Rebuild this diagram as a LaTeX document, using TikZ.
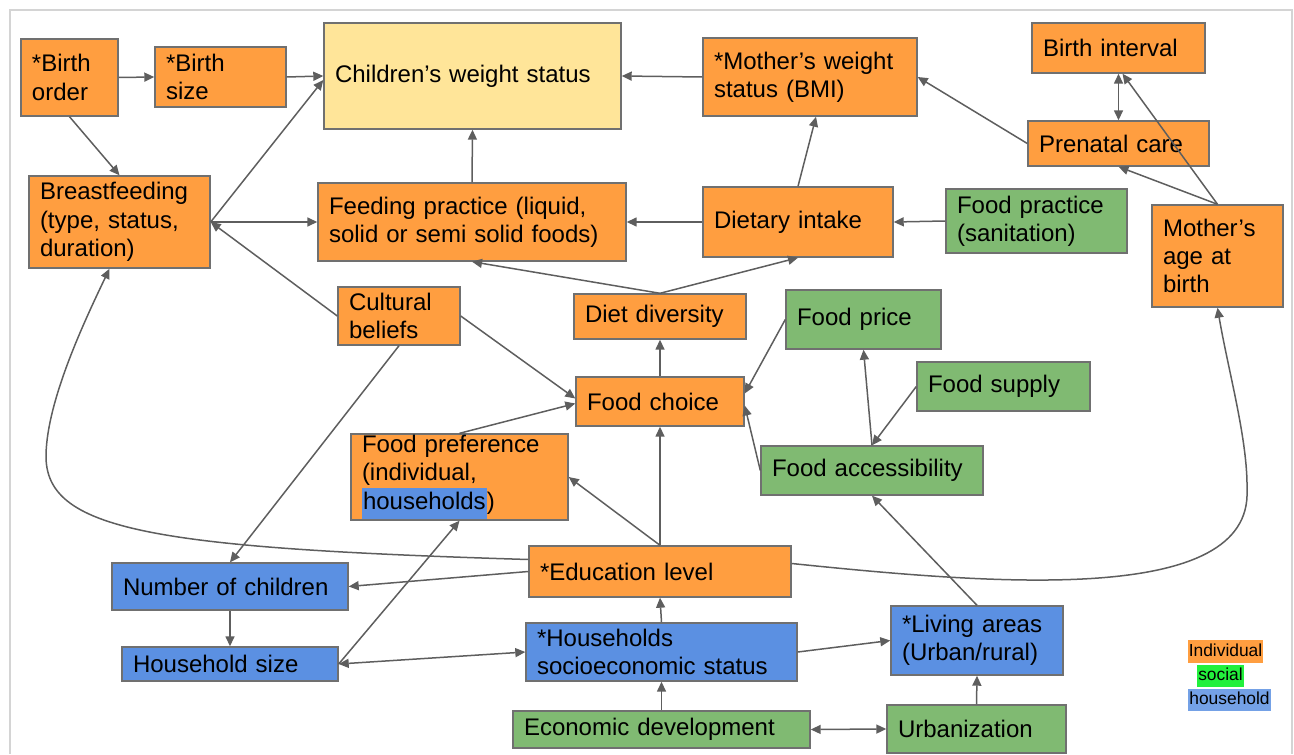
\documentclass[tikz,border=0pt]{standalone}
\usepackage{fontspec}
\setmainfont{Liberation Sans}
\usepackage{xcolor}
\usepackage{tikz}
\usetikzlibrary{arrows.meta,calc}

\definecolor{indivOrange}{HTML}{FF9E40}
\definecolor{socialGreen}{HTML}{80BA72}
\definecolor{houseBlue}{HTML}{5B90E2}
\definecolor{outcomeYellow}{HTML}{FFE599}
\definecolor{lineGray}{HTML}{5E5E5E}
\definecolor{boxGray}{HTML}{707070}
\definecolor{tagGreen}{HTML}{22F03C}
\definecolor{frameGray}{HTML}{D4D4D4}

\newcommand{\hlhouse}[1]{{\setlength{\fboxsep}{0.5pt}\colorbox{houseBlue}{\strut #1}}}

\begin{document}
\begin{tikzpicture}[
    x=0.5pt,
    y=-0.5pt,
    >={Triangle[length=5pt,width=4.5pt]},
    factor/.style={
        draw=boxGray,
        line width=0.7pt,
        align=left,
        inner xsep=5.5pt,
        inner ysep=0pt,
        font=\fontsize{12}{14.2}\selectfont
    },
    indiv/.style={factor, fill=indivOrange},
    social/.style={factor, fill=socialGreen},
    house/.style={factor, fill=houseBlue},
    outcome/.style={factor, fill=outcomeYellow},
    link/.style={
        ->,
        draw=lineGray,
        line width=0.75pt
    },
    bilink/.style={
        <->,
        draw=lineGray,
        line width=0.75pt
    },
    legendTag/.style={
        inner xsep=0.6pt,
        inner ysep=1.4pt,
        text height=6.6pt,
        text depth=2pt,
        font=\fontsize{8.7}{10}\selectfont
    }
]

\useasboundingbox (0,0) rectangle (1294,754);

% Frame
\draw[frameGray, line width=0.8pt] (10,754) -- (10,10) -- (1292,10) -- (1292,754);

% Top row
\node[indiv, text width=37.5pt, minimum height=38.5pt] (birthOrder) at (69.5,77.5) {*Birth\\order};
\node[indiv, text width=54.5pt, minimum height=30pt] (birthSize) at (220.5,77) {*Birth\\size};
\node[outcome, text width=137.5pt, minimum height=53pt] (childWeight) at (472.5,76) {Children’s weight status};
\node[indiv, text width=96pt, minimum height=39pt] (motherWeight) at (810,77) {*Mother’s weight\\status (BMI)};
\node[indiv, text width=75.5pt, minimum height=25pt] (birthInterval) at (1118.5,48) {Birth interval};
\node[indiv, text width=79.5pt, minimum height=22.5pt] (prenatal) at (1118.5,143.5) {Prenatal care};
\node[indiv, text width=54.5pt, minimum height=51pt] (motherAge) at (1217.5,256) {Mother’s\\age at\\birth};

% Second row
\node[indiv, text width=79.5pt, minimum height=46pt] (breastfeeding) at (119.5,222) {Breastfeeding\\(type, status,\\duration)};
\node[indiv, text width=143pt, minimum height=39pt] (feedingPractice) at (472,222) {Feeding practice (liquid,\\solid or semi solid foods)};
\node[indiv, text width=84pt, minimum height=35pt] (dietaryIntake) at (798,222) {Dietary intake};
\node[social, text width=79.5pt, minimum height=32pt] (foodPractice) at (1036.5,221) {Food practice\\(sanitation)};

% Middle rows
\node[indiv, text width=50pt, minimum height=29pt] (cultural) at (399,316) {Cultural\\beliefs};
\node[indiv, text width=75pt, minimum height=22.5pt] (dietDiversity) at (660,316.5) {Diet diversity};
\node[social, text width=66.5pt, minimum height=29.5pt] (foodPrice) at (863.5,319.5) {Food price};
\node[social, text width=75.5pt, minimum height=24.5pt] (foodSupply) at (1003.5,386.5) {Food supply};
\node[indiv, text width=73pt, minimum height=24.5pt] (foodChoice) at (660,401.5) {Food choice};
\node[indiv, text width=97.5pt, minimum height=43pt] (foodPreference) at (459.5,477) {Food preference\\(individual,\\\hlhouse{households})};
\node[social, text width=100pt, minimum height=24.5pt] (foodAccess) at (872,470.5) {Food accessibility};

% Bottom rows
\node[indiv, text width=120pt, minimum height=25.5pt] (education) at (660,571.5) {*Education level};
\node[house, text width=107pt, minimum height=23.5pt] (numChildren) at (230,586.5) {Number of children};
\node[house, text width=97pt, minimum height=17pt] (householdSize) at (230,664) {Household size};
\node[house, text width=124.5pt, minimum height=29pt] (socioeconomic) at (661.5,652) {*Households\\socioeconomic status};
\node[house, text width=75pt, minimum height=34.5pt] (livingAreas) at (977,640.5) {*Living areas\\(Urban/rural)};
\node[social, text width=137.5pt, minimum height=18.5pt] (economic) at (661.5,729.5) {Economic development};
\node[social, text width=78.5pt, minimum height=24pt] (urbanization) at (976.5,729) {Urbanization};

% Legend
\node[legendTag, fill=indivOrange] (tagIndividual) at (1225.5,651.5) {Individual};
\node[legendTag, fill=tagGreen] (tagSocial) at (1220.5,676) {social};
\node[legendTag, fill=houseBlue!85!white] (tagHousehold) at (1229.5,700) {household};

% Child and mother factors
\draw[link] (birthOrder.east) -- (birthSize.west);
\draw[link] (birthSize.east) -- (childWeight.west);
\draw[link] (birthOrder.south) -- (breastfeeding.north);
\draw[link] (breastfeeding.east) -- ($(childWeight.west)+(0,4)$);
\draw[link] (breastfeeding.east) -- (feedingPractice.west);
\draw[link] (cultural.west) -- (breastfeeding.east);
\draw[link] (feedingPractice.north) -- (childWeight.south);
\draw[link] (motherWeight.west) -- (childWeight.east);
\draw[link] (dietaryIntake.west) -- (feedingPractice.east);
\draw[link] (dietaryIntake.north) -- ($(motherWeight.south)+(6,0)$);
\draw[link] (foodPractice.west) -- (dietaryIntake.east);
\draw[link] (prenatal.west) -- (motherWeight.east);
\draw[link] (motherAge.north) -- (prenatal.south);
\draw[link] (motherAge.north) -- ($(birthInterval.south)+(4,0)$);
\draw[bilink] (birthInterval.south) -- (prenatal.north);

% Food choice and diet
\draw[link] (dietDiversity.north) -- (feedingPractice.south);
\draw[link] (dietDiversity.north) -- (dietaryIntake.south);
\draw[link] (foodChoice.north) -- (dietDiversity.south);
\draw[link] (cultural.east) -- ($(foodChoice.west)+(0,-3)$);
\draw[link] (cultural.south) -- (numChildren.north);
\draw[link] (foodPreference.north) -- ($(foodChoice.west)+(0,2)$);
\draw[link] (foodPrice.west) -- ($(foodChoice.east)+(0,-8)$);
\draw[link] (foodAccess.west) -- ($(foodChoice.east)+(0,4)$);
\draw[link] (foodAccess.north) -- (foodPrice.south);
\draw[link] (foodSupply.west) -- (foodAccess.north);

% Education level
\draw[link] (education.north) -- (foodChoice.south);
\draw[link] (education.north) -- (foodPreference.east);
\draw[link] (education.west) -- (numChildren.east);

% Education to breastfeeding, swung round the left side
\coordinate (eduLeftBend) at (46,455);
\draw[link]
    ($(education.west)+(0,-12)$)
    .. controls (150,548) and (45,530) ..
    (eduLeftBend)
    .. controls (47,400) and (85,320) ..
    ($(breastfeeding.south)+(-10,0)$);

% Education to mother's age, swung round the right side
\coordinate (eduRightBend) at (1247,490);
\draw[link]
    ($(education.east)+(0,-8)$)
    .. controls (1000,585) and (1252,605) ..
    (eduRightBend)
    .. controls (1248,440) and (1228,370) ..
    (motherAge.south);

% Household and social factors
\draw[link] (socioeconomic.north) -- (education.south);
\draw[bilink] (householdSize.east) -- (socioeconomic.west);
\draw[link] (householdSize.east) -- (foodPreference.south);
\draw[link] (numChildren.south) -- (householdSize.north);
\draw[link] (socioeconomic.east) -- (livingAreas.west);
\draw[link] (livingAreas.north) -- (foodAccess.south);
\draw[link] (economic.north) -- (socioeconomic.south);
\draw[bilink] (economic.east) -- (urbanization.west);
\draw[link] (urbanization.north) -- (livingAreas.south);

\end{tikzpicture}
\end{document}
